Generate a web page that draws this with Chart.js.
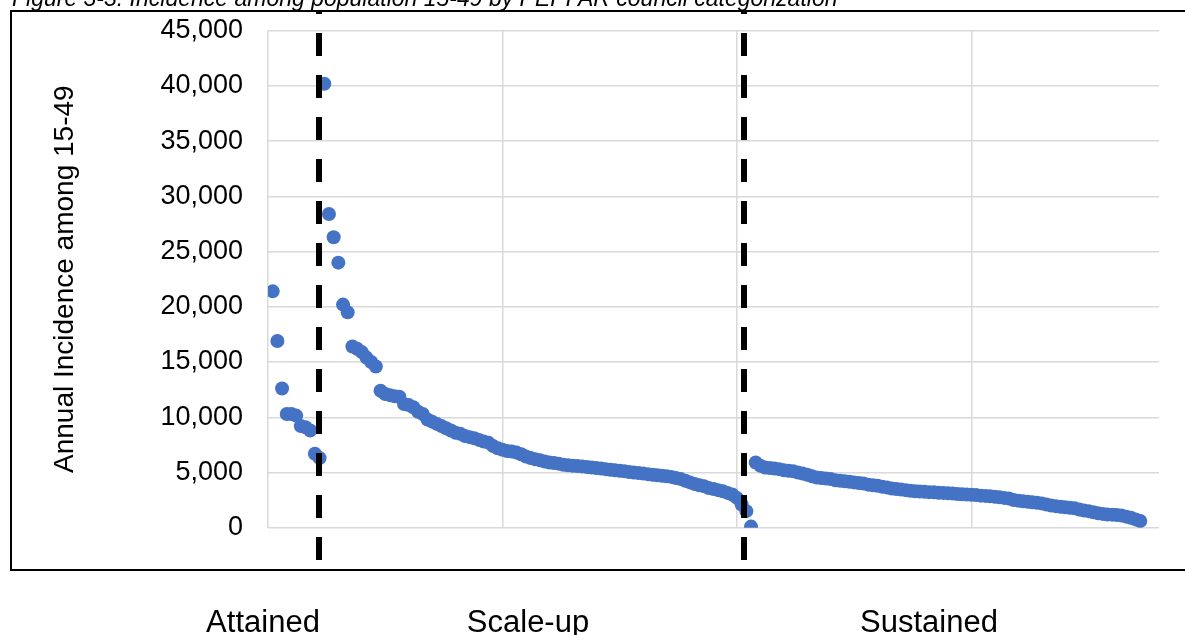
<!DOCTYPE html>
<html>
<head>
<meta charset="utf-8">
<title>Incidence among population 15-49 by PEPFAR council categorization</title>
<script src="https://cdn.jsdelivr.net/npm/chart.js@4.4.1/dist/chart.umd.min.js"></script>
<style>
  html, body { margin: 0; padding: 0; background: #fff; }
  #wrap { position: relative; width: 1185px; height: 635px; overflow: hidden; }
</style>
</head>
<body>
<div id="wrap"><canvas id="incidenceChart" width="1185" height="635"></canvas></div>
<script>
// Annual incidence among 15-49, one point per country, sorted inside each group
const groupNames = ["Attained", "Scale-up", "Sustained"];

const attained = [21400, 16900, 12600, 10300, 10300, 10150, 9200, 9100, 8800, 6700, 6300];

const scaleUp = [
  40200, 28400, 26300, 24000, 20200, 19500, 16400, 16200, 15900, 15400,
  15000, 14600, 12400, 12100, 12000, 11900, 11850, 11200, 11100, 10900,
  10500, 10300, 9800, 9600, 9400, 9200, 9000, 8800, 8600, 8500,
  8300, 8200, 8100, 7950, 7800, 7700, 7400, 7200, 7050, 6950,
  6900, 6800, 6650, 6450, 6300, 6200, 6100, 6000, 5900, 5850,
  5800, 5700, 5650, 5600, 5580, 5550, 5500, 5450, 5400, 5350,
  5300, 5250, 5200, 5150, 5100, 5050, 5000, 4950, 4900, 4850,
  4800, 4750, 4700, 4650, 4600, 4500, 4400, 4250, 4100, 3950,
  3850, 3750, 3600, 3500, 3400, 3300, 3150, 3000, 2700, 2100,
  1500, 100
];

const sustained = [
  5900, 5600, 5450, 5400, 5350, 5300, 5200, 5150, 5100, 5000,
  4900, 4800, 4650, 4550, 4500, 4450, 4400, 4300, 4250, 4200,
  4150, 4100, 4050, 4000, 3900, 3850, 3800, 3700, 3650, 3550,
  3500, 3450, 3400, 3350, 3300, 3280, 3250, 3220, 3200, 3170,
  3150, 3120, 3100, 3050, 3020, 3000, 2980, 2950, 2900, 2880,
  2850, 2800, 2750, 2700, 2650, 2500, 2450, 2400, 2350, 2300,
  2250, 2200, 2100, 2000, 1950, 1900, 1850, 1800, 1750, 1650,
  1550, 1500, 1400, 1300, 1250, 1200, 1180, 1150, 1100, 1000,
  900, 750, 600
];

const yTickValues = [0, 5000, 10000, 15000, 20000, 25000, 30000, 35000, 40000, 45000];

// where the dashed separators sit, in point-index units
const dividerPositions = [10.9, 101.5];

document.addEventListener("DOMContentLoaded", function () {
  const fontFamily = "'Liberation Sans', Arial, sans-serif";
  Chart.defaults.font.family = fontFamily;
  Chart.defaults.color = "#000";

  const markerColor = "#4472C4";
  const gridColor = "#d9d9d9";

  // x is just the running position of each country in the sorted list
  const groups = [attained, scaleUp, sustained];
  let offset = 0;
  const datasets = groups.map((values, g) => {
    const start = offset;
    offset += values.length;
    return {
      label: groupNames[g],
      data: values.map((v, i) => ({ x: start + i + 1, y: v })),
      backgroundColor: markerColor,
      borderWidth: 0,
      pointRadius: 7,
      pointHoverRadius: 7,
    };
  });

  // dashed separators, frame, cut-off caption and group names
  const overlay = {
    id: "overlay",
    afterDatasetsDraw(chart) {
      const { ctx } = chart;
      const xScale = chart.scales.x;
      ctx.save();
      ctx.strokeStyle = "#000";
      ctx.lineWidth = 6;
      ctx.setLineDash([23, 19]);
      ctx.lineDashOffset = 19;
      dividerPositions.forEach((v) => {
        const px = Math.round(xScale.getPixelForValue(v));
        ctx.beginPath();
        ctx.moveTo(px, 10);
        ctx.lineTo(px, 560);
        ctx.stroke();
      });
      ctx.restore();
    },
    afterDraw(chart) {
      const { ctx } = chart;
      ctx.save();
      ctx.strokeStyle = "#000";
      ctx.lineWidth = 2;
      ctx.beginPath();
      ctx.moveTo(1200, 11);
      ctx.lineTo(11, 11);
      ctx.lineTo(11, 570);
      ctx.lineTo(1200, 570);
      ctx.stroke();

      ctx.fillStyle = "#000";
      ctx.textBaseline = "alphabetic";
      ctx.textAlign = "left";
      ctx.font = "italic 23px " + fontFamily;
      ctx.fillText("Figure 3-3: Incidence among population 15-49 by PEPFAR council categorization", 12, 6);

      ctx.font = "31px " + fontFamily;
      ctx.textAlign = "center";
      const labelCentres = [263, 528, 929];
      groupNames.forEach((name, i) => ctx.fillText(name, labelCentres[i], 632));
      ctx.restore();
    },
  };

  const ctx = document.getElementById("incidenceChart").getContext("2d");
  new Chart(ctx, {
    type: "scatter",
    data: { datasets: datasets },
    options: {
      responsive: false,
      animation: false,
      events: [],
      layout: { autoPadding: false, padding: { top: 30.7, right: 26, bottom: 107.3, left: 0 } },
      plugins: {
        legend: { display: false },
        tooltip: { enabled: false },
      },
      scales: {
        x: {
          type: "linear",
          min: 0,
          max: 190,
          ticks: { display: false, stepSize: 50, includeBounds: false },
          grid: { color: gridColor, lineWidth: 1.5, drawTicks: false },
          border: { display: false },
          afterFit(scale) { scale.height = 0; },
        },
        y: {
          min: 0,
          max: 45000,
          afterBuildTicks(scale) {
            scale.ticks = yTickValues.map((v) => ({ value: v }));
          },
          ticks: {
            font: { size: 27 },
            color: "#000",
            padding: 25,
            callback: (v) => v.toLocaleString("en-US"),
          },
          grid: { color: gridColor, lineWidth: 1.5, drawTicks: false },
          border: { display: false },
          title: {
            display: true,
            text: "Annual Incidence among 15-49",
            font: { size: 28 },
            color: "#000",
            padding: { top: 48, bottom: 0 },
          },
          afterFit(scale) {
            scale.width = 268;
            // labels may overhang the plot; keep the plot box where the padding puts it
            scale.paddingTop = 0;
            scale.paddingBottom = 0;
          },
        },
      },
    },
    plugins: [overlay],
  });
});
</script>
</body>
</html>
